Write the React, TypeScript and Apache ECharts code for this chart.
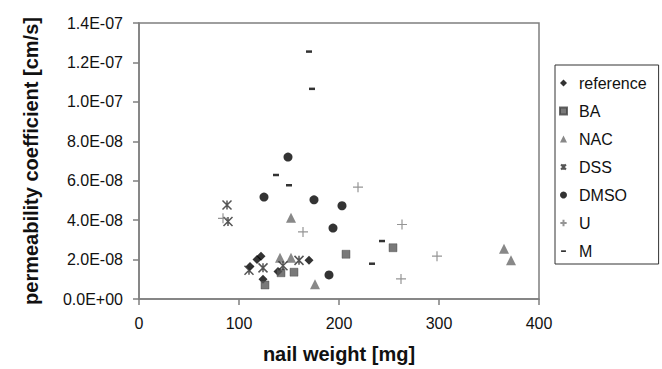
import React, { useEffect, useRef } from "react";
import * as echarts from "echarts";

// nail weight [mg] / permeability coefficient [cm/s]
const referenceX = [118, 122, 111, 124, 139, 170];
const referenceY = [2.0e-8, 2.17e-8, 1.65e-8, 1.0e-8, 1.4e-8, 1.96e-8];
const baX = [126, 142, 155, 207, 254];
const baY = [0.71e-8, 1.33e-8, 1.36e-8, 2.27e-8, 2.6e-8];
const nacX = [141, 152, 152, 176, 365, 372];
const nacY = [2.09e-8, 2.09e-8, 4.12e-8, 0.75e-8, 2.55e-8, 1.97e-8];
const dssX = [88, 89, 110, 124, 144, 160];
const dssY = [4.77e-8, 3.93e-8, 1.46e-8, 1.58e-8, 1.69e-8, 1.96e-8];
const dmsoX = [149, 125, 175, 203, 194, 190];
const dmsoY = [7.2e-8, 5.17e-8, 5.03e-8, 4.73e-8, 3.6e-8, 1.22e-8];
const uX = [84, 219, 164, 263, 298, 262];
const uY = [4.09e-8, 5.67e-8, 3.4e-8, 3.78e-8, 2.17e-8, 1.02e-8];
const mX = [170, 173, 137, 150, 243, 233];
const mY = [12.55e-8, 10.66e-8, 6.29e-8, 5.77e-8, 2.94e-8, 1.79e-8];

const seriesNames = ["reference", "BA", "NAC", "DSS", "DMSO", "U", "M"];
const xTicks = [0, 100, 200, 300, 400];

const FONT = "'Liberation Sans', Arial, Helvetica, sans-serif";

const ASTERISK = "path://M0,0L10,10M10,0L0,10M5,0L5,10";
const PLUS = "path://M5,0L5,10M0,5L10,5";
// legend dash: invisible moves widen the bounding box so the bar stays thin
const DASH_ICON = "path://M0,0M10,10M1.5,4L8.5,4L8.5,6.4L1.5,6.4Z";
const ASTERISK_ICON = "path://M0,0M10,10M1.5,1.5L8.5,8.5M8.5,1.5L1.5,8.5M5,1L5,9";
const PLUS_ICON = "path://M0,0M10,10M5,0.5L5,9.5M0.5,5L9.5,5";

function fmtExp(v: number): string {
  const [m, e] = v.toExponential(1).split("e");
  const n = parseInt(e, 10);
  return m + "E" + (n < 0 ? "-" : "+") + String(Math.abs(n)).padStart(2, "0");
}

function pairs(xs: number[], ys: number[]) {
  return xs.map((x, i) => [x, ys[i]]);
}

export default function App() {
  const ref = useRef<HTMLDivElement>(null);
  useEffect(() => {
    if (!ref.current) return;
    const chart = echarts.init(ref.current, undefined, { renderer: "svg" });
    const axisColor = "#7f7f7f";
    chart.setOption({
      animation: false,
      backgroundColor: "#ffffff",
      textStyle: { fontFamily: FONT },
      grid: {
        left: 139,
        right: 123,
        top: 23,
        bottom: 62,
        show: true,
        borderColor: axisColor,
        borderWidth: 1.5,
        backgroundColor: "transparent",
      },
      legend: {
        orient: "vertical",
        left: 555,
        top: 65,
        padding: [10, 12, 5, 4],
        itemGap: 12,
        itemWidth: 7,
        itemHeight: 7,
        borderColor: "#333333",
        borderWidth: 1,
        backgroundColor: "#ffffff",
        textStyle: { fontSize: 16, color: "#111111", fontFamily: FONT, padding: [0, 0, 0, 7] },
        data: [
          { name: seriesNames[0], icon: "diamond" },
          { name: seriesNames[1], icon: "rect" },
          { name: seriesNames[2], icon: "triangle" },
          { name: seriesNames[3], icon: ASTERISK_ICON },
          { name: seriesNames[4], icon: "circle" },
          { name: seriesNames[5], icon: PLUS_ICON },
          { name: seriesNames[6], icon: DASH_ICON },
        ],
      },
      xAxis: {
        type: "value",
        min: xTicks[0],
        max: xTicks[xTicks.length - 1],
        interval: 100,
        name: "nail weight [mg]",
        nameLocation: "middle",
        nameGap: 45,
        nameTextStyle: { fontSize: 20, fontWeight: "bold", color: "#111111", fontFamily: FONT },
        axisLine: { lineStyle: { color: axisColor, width: 1.5 } },
        axisTick: { show: true, length: 6, lineStyle: { color: axisColor, width: 1.5 } },
        axisLabel: { fontSize: 16, color: "#111111", margin: 16, fontFamily: FONT },
        splitLine: { show: false },
      },
      yAxis: {
        type: "value",
        min: 0,
        max: 1.4e-7,
        interval: 2e-8,
        name: "permeability coefficient [cm/s]",
        nameLocation: "middle",
        nameGap: 98,
        nameTextStyle: { fontSize: 20, fontWeight: "bold", color: "#111111", fontFamily: FONT },
        axisLine: { show: true, lineStyle: { color: axisColor, width: 1.5 } },
        axisTick: { show: true, length: 6, lineStyle: { color: axisColor, width: 1.5 } },
        axisLabel: { fontSize: 16, color: "#111111", margin: 16, fontFamily: FONT, formatter: (v: number) => fmtExp(v) },
        splitLine: { show: false },
      },
      series: [
        {
          name: seriesNames[0],
          type: "scatter",
          symbol: "diamond",
          symbolSize: 9,
          itemStyle: { color: "#000000" },
          data: pairs(referenceX, referenceY),
        },
        {
          name: seriesNames[1],
          type: "scatter",
          symbol: "rect",
          symbolSize: 8,
          itemStyle: { color: "#575757", borderColor: "#444444", borderWidth: 0.5 },
          data: pairs(baX, baY),
        },
        {
          name: seriesNames[2],
          type: "scatter",
          symbol: "triangle",
          symbolSize: 10,
          itemStyle: { color: "#6a6a6a" },
          data: pairs(nacX, nacY),
        },
        {
          name: seriesNames[3],
          type: "scatter",
          symbol: ASTERISK,
          symbolSize: 9,
          itemStyle: { color: "rgba(0,0,0,0)", borderColor: "#2a2a2a", borderWidth: 1.5 },
          data: pairs(dssX, dssY),
        },
        {
          name: seriesNames[4],
          type: "scatter",
          symbol: "circle",
          symbolSize: 9,
          itemStyle: { color: "#000000" },
          data: pairs(dmsoX, dmsoY),
        },
        {
          name: seriesNames[5],
          type: "scatter",
          symbol: PLUS,
          symbolSize: 10,
          itemStyle: { color: "rgba(0,0,0,0)", borderColor: "#7a7a7a", borderWidth: 1.2 },
          data: pairs(uX, uY),
        },
        {
          name: seriesNames[6],
          type: "scatter",
          symbol: "rect",
          symbolSize: [6, 2.5],
          itemStyle: { color: "#000000" },
          data: pairs(mX, mY),
        },
      ],
    });
    return () => chart.dispose();
  }, []);
  return (
    <div
      ref={ref}
      style={{ position: "fixed", left: 0, top: 0, width: 662, height: 369, background: "#ffffff" }}
    />
  );
}
